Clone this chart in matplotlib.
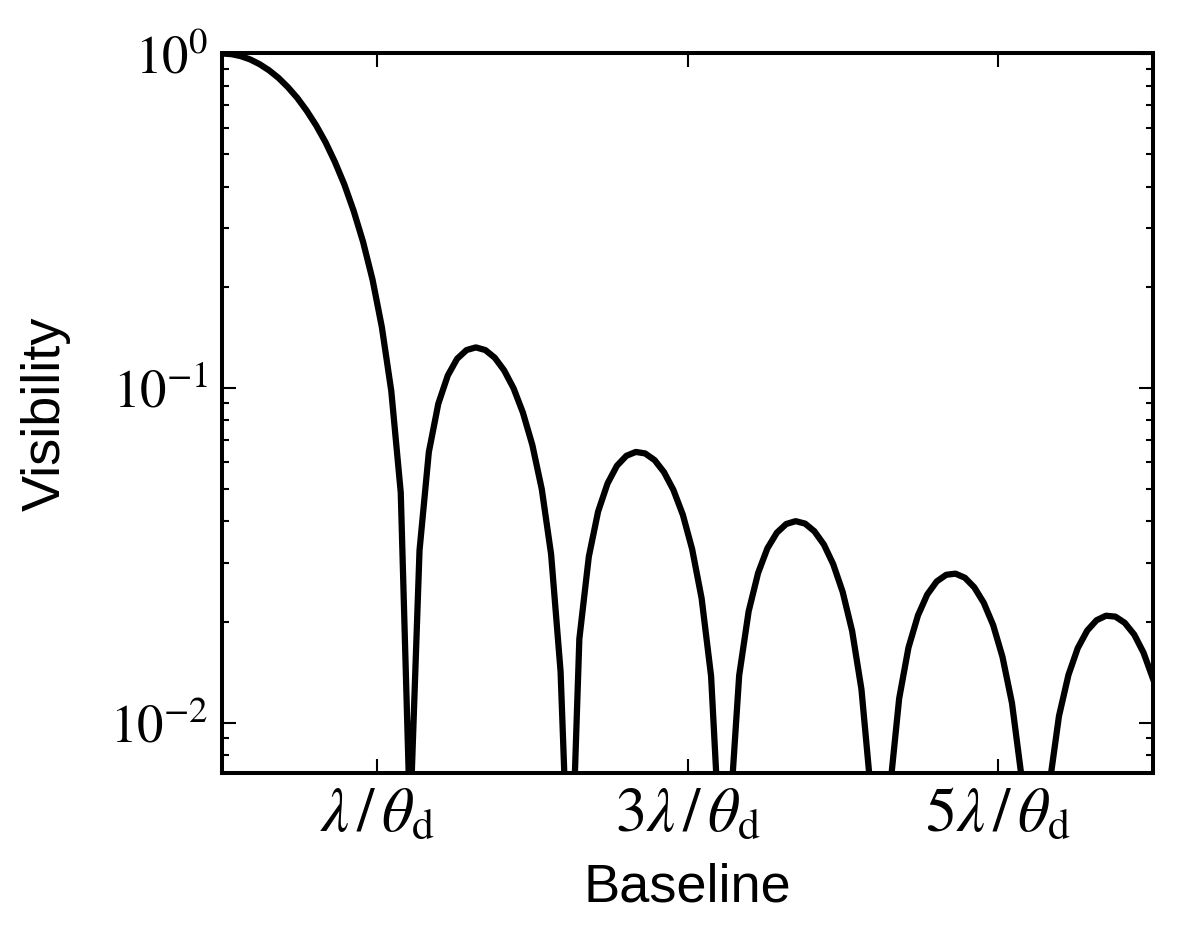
import numpy as np
import matplotlib
matplotlib.use("Agg")
import matplotlib.pyplot as plt
from matplotlib.ticker import NullFormatter

# baseline in units of lambda/theta_d, and visibility
baseline = [0.000, 0.061, 0.121, 0.182, 0.242, 0.303, 0.364, 0.424, 0.485, 0.545,
            0.606, 0.667, 0.727, 0.788, 0.848, 0.909, 0.970, 1.030, 1.091, 1.152,
            1.212, 1.273, 1.333, 1.394, 1.455, 1.515, 1.576, 1.636, 1.697, 1.758,
            1.818, 1.879, 1.939, 2.000, 2.061, 2.121, 2.182, 2.242, 2.303, 2.364,
            2.424, 2.485, 2.545, 2.606, 2.667, 2.727, 2.788, 2.848, 2.909, 2.970,
            3.030, 3.091, 3.152, 3.212, 3.273, 3.333, 3.394, 3.455, 3.515, 3.576,
            3.636, 3.697, 3.758, 3.818, 3.879, 3.939, 4.000, 4.061, 4.121, 4.182,
            4.242, 4.303, 4.364, 4.424, 4.485, 4.545, 4.606, 4.667, 4.727, 4.788,
            4.848, 4.909, 4.970, 5.030, 5.091, 5.152, 5.212, 5.273, 5.333, 5.394,
            5.455, 5.515, 5.576, 5.636, 5.697, 5.758, 5.818, 5.879, 5.939, 6.000]
visibility = [1.0, 0.9955, 0.9820, 0.9598, 0.9292, 0.8909, 0.8455, 0.7938, 0.7367, 0.6752,
              0.6104, 0.5432, 0.4749, 0.4065, 0.3391, 0.2737, 0.2111, 0.1523, 0.09796, 0.04871,
              0.005029, 0.03273, 0.06436, 0.08977, 0.1090, 0.1223, 0.1299, 0.1323, 0.1299, 0.1232,
              0.1130, 0.09988, 0.08452, 0.06761, 0.04984, 0.03184, 0.01422, 0.002482, 0.01780, 0.03133,
              0.04277, 0.05190, 0.05857, 0.06274, 0.06443, 0.06377, 0.06091, 0.05611, 0.04963, 0.04181,
              0.03299, 0.02352, 0.01377, 0.004084, 0.005215, 0.01383, 0.02150, 0.02801, 0.03320, 0.03696,
              0.03923, 0.04001, 0.03934, 0.03731, 0.03406, 0.02976, 0.02459, 0.01879, 0.01258, 0.006194,
              0.000141, 0.006206, 0.01180, 0.01675, 0.02090, 0.02415, 0.02642, 0.02766, 0.02788, 0.02710,
              0.02538, 0.02283, 0.01956, 0.01572, 0.01145, 0.006925, 0.002312, 0.002224, 0.006528, 0.01046,
              0.01388, 0.01670, 0.01884, 0.02023, 0.02087, 0.02074, 0.01987, 0.01833, 0.01618, 0.01352]

xtick_pos = [1, 3, 5]
xtick_labels = [r"$\lambda\,/\,\theta_{\rm d}$", r"$3\lambda\,/\,\theta_{\rm d}$", r"$5\lambda\,/\,\theta_{\rm d}$"]
ytick_pos = [1e-2, 1e-1, 1e0]
ytick_labels = [r"$10^{-2}$", r"$10^{-1}$", r"$10^{0}$"]

plt.rcParams["mathtext.fontset"] = "stix"
plt.rcParams["font.family"] = ["Liberation Sans", "DejaVu Sans"]

fig = plt.figure(figsize=(11.82, 9.46), dpi=100)
ax = fig.add_axes([222/1182, 1 - 773/946, (1153-222)/1182, (773-53.5)/946])
ax.plot(baseline, visibility, color="k", lw=4.5)
ax.set_yscale("log")
ax.set_xlim(0, 6)
ax.set_ylim(7.07e-3, 1)

ax.set_xticks(xtick_pos)
ax.set_xticklabels(xtick_labels)
ax.set_yticks(ytick_pos)
ax.set_yticklabels(ytick_labels)
ax.yaxis.set_minor_formatter(NullFormatter())

for s in ax.spines.values():
    s.set_linewidth(2.9)
ax.tick_params(which="both", direction="in", top=True, right=True, labelsize=38)
ax.tick_params(which="major", length=10, width=1.5, pad=10)
ax.tick_params(which="minor", length=5, width=1.5)
ax.tick_params(axis="x", which="major", labelsize=45, pad=8)

ax.set_xlabel("Baseline", fontsize=39, labelpad=14)
ax.set_ylabel("Visibility", fontsize=39, labelpad=28)

fig.savefig("out.png", dpi=100)
